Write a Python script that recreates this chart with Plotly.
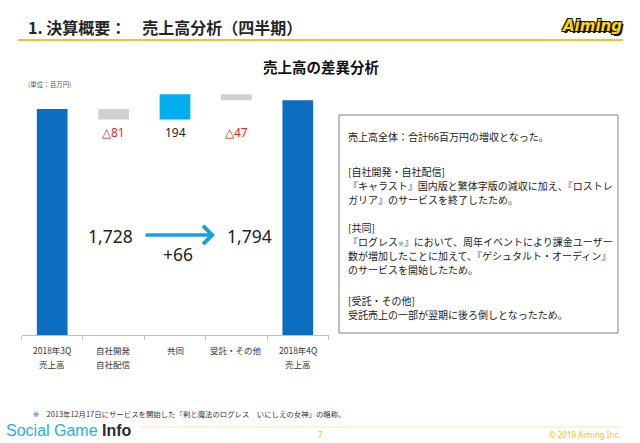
import plotly.graph_objects as go

W, H = 640, 443

# ---- data ----
categories = ["2018年3Q", "自社開発", "共同", "受託・その他", "2018年4Q"]
categories_line2 = ["売上高", "自社配信", "", "", "売上高"]
values = [1728, -81, 194, -47, 1794]
measures = ["absolute", "relative", "relative", "relative", "total"]
start_total = values[0]
end_total = values[-1]
diff_total = end_total - start_total

MARK = "<span style='font-family:DejaVu Sans;color:#555555'>\u203B\uFE0E</span>"

note_lines = [
    "売上高全体：合計66百万円の増収となった。",
    "",
    "[自社開発・自社配信]",
    "『キャラスト』国内版と繁体字版の減収に加え、『ロストレ",
    "ガリア』のサービスを終了したため。",
    "",
    "[共同]",
    "『ログレス<span style='font-size:7px;font-family:DejaVu Sans;color:#777777'>\u203B\uFE0E</span>』において、周年イベントにより課金ユーザー",
    "数が増加したことに加えて、『ゲシュタルト・オーディン』",
    "のサービスを開始したため。",
    "",
    "[受託・その他]",
    "受託売上の一部が翌期に後ろ倒しとなったため。",
]
note_y = [136, None, 171, 185, 199, None, 227, 241, 255, 269, None, 300, 314]

# ---- colors ----
C_TOTAL = "#0B6DBF"
C_INC = "#00AEEF"
C_DEC = "#D0D0D0"
C_RED = "#E8262A"
C_ARROW = "#1AA0DE"
C_YEL = "#F5C400"

JP = "Noto Sans CJK JP"


def px(x):
    return x / W


def py(y):
    return 1 - y / H


fig = go.Figure()
fig.add_trace(go.Waterfall(
    x=categories,
    y=values,
    measure=measures,
    width=0.5,
    connector=dict(visible=False),
    increasing=dict(marker=dict(color=C_INC)),
    decreasing=dict(marker=dict(color=C_DEC)),
    totals=dict(marker=dict(color=C_TOTAL)),
    hoverinfo="skip",
    showlegend=False,
))

base_px, top_px = 335, 60
px_per_unit = (335 - 109) / start_total
y_top = (base_px - top_px) / px_per_unit

ann = []
# value labels for deltas
for i in range(1, len(values) - 1):
    v = values[i]
    txt = f"△{abs(v)}" if v < 0 else f"{v}"
    col = C_RED if v < 0 else "#222222"
    ann.append(dict(x=categories[i], xref="x", y=py(132), yref="paper",
                    text=txt, showarrow=False, font=dict(size=12, color=col, family="Noto Sans"),
                    xanchor="center", yanchor="middle"))

# category labels (two lines)
for c, c2 in zip(categories, categories_line2):
    ann.append(dict(x=c, xref="x", y=py(350), yref="paper", text=c, showarrow=False,
                    font=dict(size=8.5, color="#333333", family=JP), xanchor="center", yanchor="middle"))
    if c2:
        ann.append(dict(x=c, xref="x", y=py(364), yref="paper", text=c2, showarrow=False,
                        font=dict(size=8.5, color="#333333", family=JP), xanchor="center", yanchor="middle"))

# big totals + arrow
ann.append(dict(x=px(110), y=py(236), xref="paper", yref="paper", text=f"{start_total:,}",
                showarrow=False, font=dict(size=17.5, color="#222222", family="Noto Sans"),
                xanchor="center", yanchor="middle"))
ann.append(dict(x=px(249), y=py(236), xref="paper", yref="paper", text=f"{end_total:,}",
                showarrow=False, font=dict(size=17.5, color="#222222", family="Noto Sans"),
                xanchor="center", yanchor="middle"))
ann.append(dict(x=px(178), y=py(254), xref="paper", yref="paper", text=f"+{diff_total}",
                showarrow=False, font=dict(size=17.5, color="#222222", family="Noto Sans"),
                xanchor="center", yanchor="middle"))
ann.append(dict(x=px(215), y=py(235), ax=-71, ay=0, xref="paper", yref="paper",
                axref="pixel", ayref="pixel", text="", showarrow=True, arrowhead=4,
                arrowsize=1, arrowwidth=3.5, arrowcolor=C_ARROW))

# headers
ann.append(dict(x=px(26), y=py(27), xref="paper", yref="paper",
                text="<b>1. 決算概要：　売上高分析（四半期）</b>", showarrow=False,
                font=dict(size=16, color="#262626", family=JP), xanchor="left", yanchor="middle"))
ann.append(dict(x=px(592), y=py(26), xref="paper", yref="paper",
                text="<b><i>Aiming</i></b>", showarrow=False,
                font=dict(size=15, color="#FFD800", family="DejaVu Sans",
                          shadow="1px 1px 0 #111, -1px -1px 0 #111, 1px -1px 0 #111, -1px 1px 0 #111, 2px 2px 0 #111"),
                xanchor="center", yanchor="middle"))
ann.append(dict(x=px(321), y=py(67), xref="paper", yref="paper",
                text="<b>売上高の差異分析</b>", showarrow=False,
                font=dict(size=14.5, color="#111111", family=JP), xanchor="center", yanchor="middle"))
ann.append(dict(x=px(26), y=py(84), xref="paper", yref="paper",
                text="(単位：百万円)", showarrow=False,
                font=dict(size=6.5, color="#555555", family=JP), xanchor="left", yanchor="middle"))

# note box text
for t, y in zip(note_lines, note_y):
    if not t:
        continue
    ann.append(dict(x=px(346), y=py(y), xref="paper", yref="paper", text=t, showarrow=False,
                    font=dict(size=10, color="#222222", family=JP), xanchor="left", yanchor="middle"))

# footer
ann.append(dict(x=px(31), y=py(413), xref="paper", yref="paper",
                text=MARK + "　2013年12月17日にサービスを開始した『剣と魔法のログレス　いにしえの女神』の略称。",
                showarrow=False, font=dict(size=7.4, color="#333333", family=JP),
                xanchor="left", yanchor="middle"))
ann.append(dict(x=px(4), y=py(430), xref="paper", yref="paper",
                text="<span style='color:#23B2D3'>Social Game </span><b>Info</b>",
                showarrow=False, font=dict(size=16, color="#2b2b2b", family="Liberation Sans"),
                xanchor="left", yanchor="middle"))
ann.append(dict(x=px(320), y=py(434), xref="paper", yref="paper", text="7", showarrow=False,
                font=dict(size=8, color=C_YEL, family="Noto Sans"), xanchor="center", yanchor="middle"))
ann.append(dict(x=px(622), y=py(434), xref="paper", yref="paper", text="© 2019 Aiming Inc.",
                showarrow=False, font=dict(size=8, color=C_YEL, family="Noto Sans"),
                xanchor="right", yanchor="middle"))

shapes = [
    dict(type="line", xref="paper", yref="paper", x0=px(18), x1=px(623), y0=py(40), y1=py(40),
         line=dict(color="#F2C12E", width=2)),
    dict(type="rect", xref="paper", yref="paper", x0=px(339), x1=px(618), y0=py(115), y1=py(333),
         line=dict(color="#808080", width=1)),
    dict(type="line", xref="paper", yref="paper", x0=px(140), x1=px(622), y0=py(427), y1=py(427),
         line=dict(color="#FBE8B0", width=1)),
]

fig.update_layout(
    width=W, height=H, autosize=False,
    margin=dict(l=0, r=0, t=0, b=0),
    paper_bgcolor="white", plot_bgcolor="white",
    annotations=ann, shapes=shapes,
    xaxis=dict(domain=[px(21.5), px(328.5)], type="category", showline=True, linecolor="#BFBFBF",
               linewidth=1, ticks="outside", tickson="boundaries", ticklen=4, tickcolor="#BFBFBF",
               showticklabels=False, showgrid=False, zeroline=False, fixedrange=True),
    yaxis=dict(domain=[py(335), py(60)], range=[0, y_top], visible=False, showgrid=False,
               zeroline=False, fixedrange=True),
)

fig.write_html(
    "out.html",
    config={"displayModeBar": False},
    post_script="document.body.style.margin='0';document.body.style.overflow='hidden';",
)
